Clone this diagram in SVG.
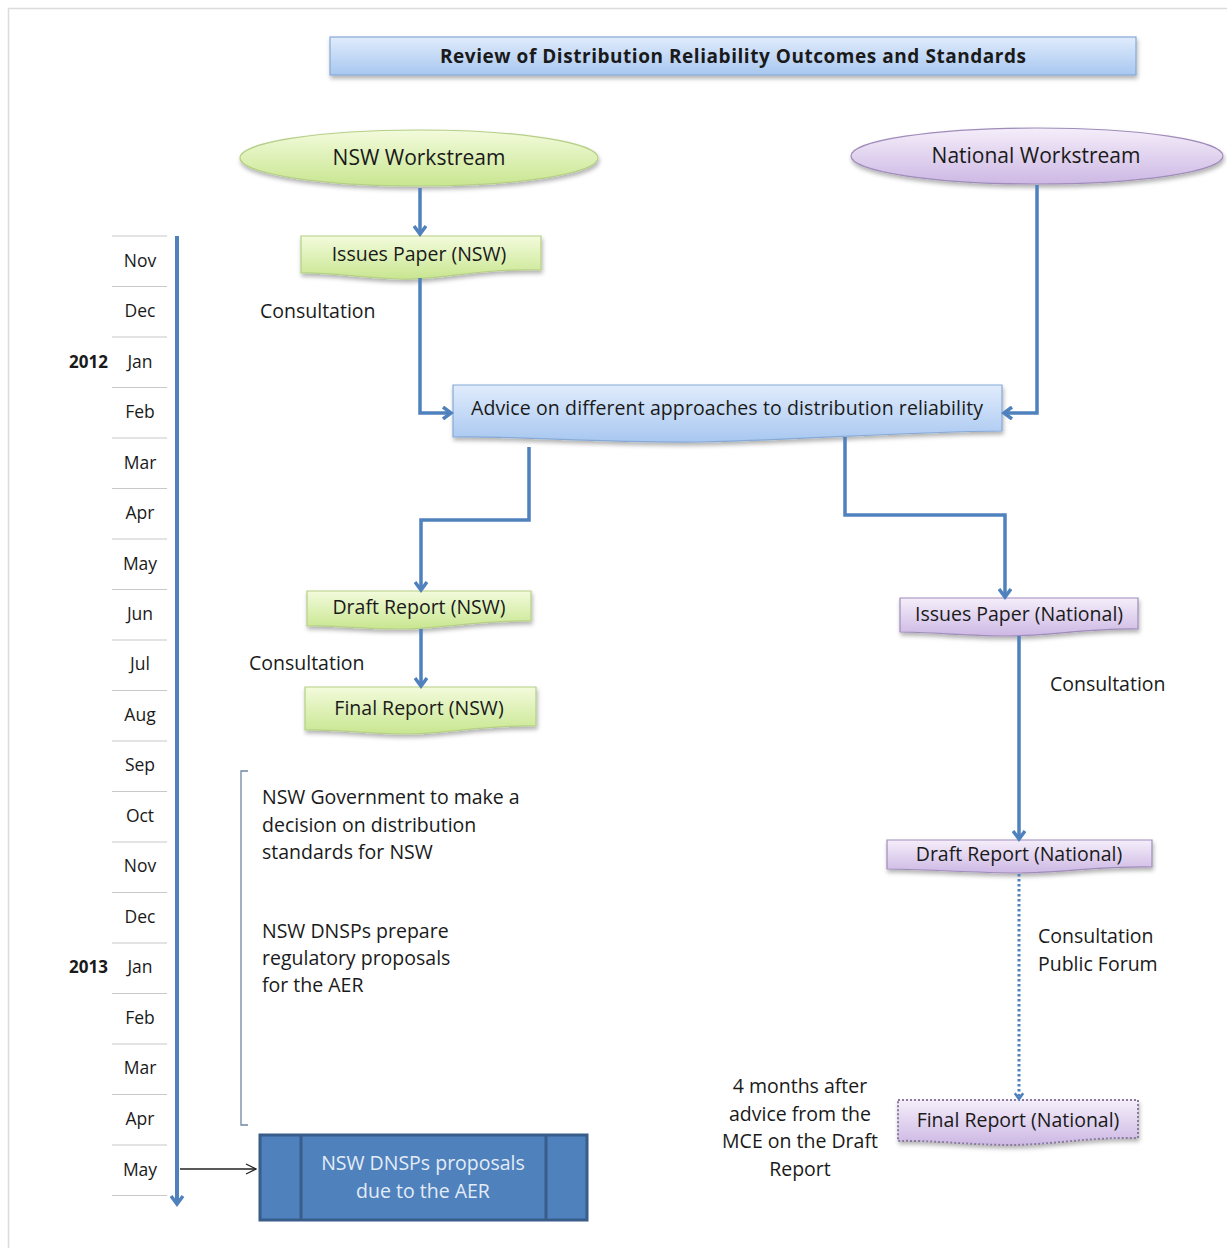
<svg xmlns="http://www.w3.org/2000/svg" width="1227" height="1248" viewBox="0 0 1227 1248">
<style>
text{font-family:"Open Sans","Liberation Sans",sans-serif;fill:#1a1a1a}
.t{font-size:19.5px}
.c{text-anchor:middle}
.m{font-size:17.5px;text-anchor:middle}
.y{font-size:17px;font-weight:bold;text-anchor:end}
.sep{stroke:#c8c8c8;stroke-width:1.2}
.con{fill:none;stroke:#4f81bd;stroke-width:3.5}
.g{fill:url(#gGreen);stroke:#b5cf86;stroke-width:1.2}
.p{fill:url(#gPurple);stroke:#9f8cba;stroke-width:1.2}
.b{fill:url(#gBlue);stroke:#86a9d6;stroke-width:1.2}
</style>
<defs>
<linearGradient id="gGreen" x1="0" y1="0" x2="0" y2="1"><stop offset="0" stop-color="#f3fbdc"/><stop offset="1" stop-color="#c8e690"/></linearGradient>
<linearGradient id="gPurple" x1="0" y1="0" x2="0" y2="1"><stop offset="0" stop-color="#f5eefa"/><stop offset="1" stop-color="#cdb8e4"/></linearGradient>
<linearGradient id="gBlue" x1="0" y1="0" x2="0" y2="1"><stop offset="0" stop-color="#e0ecfc"/><stop offset="1" stop-color="#a8c7f0"/></linearGradient>
<filter id="sh" x="-10%" y="-20%" width="120%" height="150%"><feDropShadow dx="1" dy="3" stdDeviation="2" flood-color="#000" flood-opacity="0.3"/></filter>
<marker id="ah" viewBox="0 0 14 14" markerWidth="14" markerHeight="14" refX="10" refY="7" orient="auto" markerUnits="userSpaceOnUse"><path d="M2,1 L10,7 L2,13" fill="none" stroke="#4f81bd" stroke-width="3.5"/></marker>
<marker id="ahs" viewBox="0 0 12 12" markerWidth="10" markerHeight="10" refX="9" refY="6" orient="auto" markerUnits="userSpaceOnUse"><path d="M2,1 L9,6 L2,11" fill="none" stroke="#4f81bd" stroke-width="3"/></marker>
<marker id="ahk" viewBox="0 0 12 12" markerWidth="12" markerHeight="12" refX="11" refY="6" orient="auto" markerUnits="userSpaceOnUse"><path d="M1,1 L11,6 L1,11" fill="none" stroke="#222" stroke-width="1.3"/></marker>
</defs>
<rect x="0" y="0" width="1227" height="1248" fill="#ffffff"/>
<path d="M8.5,1248 V8.5 H1227" fill="none" stroke="#dcdcdc" stroke-width="1.5"/>

<g id="title">
<rect x="330" y="37" width="806" height="38" class="b" filter="url(#sh)"/>
<text x="733" y="63" class="c" style="font-size:19px;font-weight:bold" textLength="586">Review of Distribution Reliability Outcomes and Standards</text>
</g>

<g id="timeline">
<g class="sep">
<line x1="112" y1="236" x2="167" y2="236"/><line x1="112" y1="286.5" x2="167" y2="286.5"/><line x1="112" y1="337" x2="167" y2="337"/><line x1="112" y1="387.5" x2="167" y2="387.5"/><line x1="112" y1="438" x2="167" y2="438"/><line x1="112" y1="488.5" x2="167" y2="488.5"/><line x1="112" y1="539" x2="167" y2="539"/><line x1="112" y1="589.5" x2="167" y2="589.5"/><line x1="112" y1="640" x2="167" y2="640"/><line x1="112" y1="690.5" x2="167" y2="690.5"/><line x1="112" y1="741" x2="167" y2="741"/><line x1="112" y1="791.5" x2="167" y2="791.5"/><line x1="112" y1="842" x2="167" y2="842"/><line x1="112" y1="892.5" x2="167" y2="892.5"/><line x1="112" y1="943" x2="167" y2="943"/><line x1="112" y1="993.5" x2="167" y2="993.5"/><line x1="112" y1="1044" x2="167" y2="1044"/><line x1="112" y1="1094.5" x2="167" y2="1094.5"/><line x1="112" y1="1145" x2="167" y2="1145"/><line x1="112" y1="1195.5" x2="167" y2="1195.5"/>
</g>
<text x="140" y="267" class="m">Nov</text>
<text x="140" y="317" class="m">Dec</text>
<text x="140" y="368" class="m">Jan</text>
<text x="140" y="418" class="m">Feb</text>
<text x="140" y="469" class="m">Mar</text>
<text x="140" y="519" class="m">Apr</text>
<text x="140" y="570" class="m">May</text>
<text x="140" y="620" class="m">Jun</text>
<text x="140" y="670" class="m">Jul</text>
<text x="140" y="721" class="m">Aug</text>
<text x="140" y="771" class="m">Sep</text>
<text x="140" y="822" class="m">Oct</text>
<text x="140" y="872" class="m">Nov</text>
<text x="140" y="923" class="m">Dec</text>
<text x="140" y="973" class="m">Jan</text>
<text x="140" y="1024" class="m">Feb</text>
<text x="140" y="1074" class="m">Mar</text>
<text x="140" y="1125" class="m">Apr</text>
<text x="140" y="1176" class="m">May</text>
<text x="108" y="368" class="y">2012</text>
<text x="108" y="973" class="y">2013</text>
<line x1="177" y1="236" x2="177" y2="1204" stroke="#4f81bd" stroke-width="4" marker-end="url(#ah)"/>
</g>

<g id="nsw-workstream">
<ellipse cx="419" cy="158" rx="179" ry="28" class="g" filter="url(#sh)"/>
<text x="419" y="165" class="c" style="font-size:21px">NSW Workstream</text>
</g>

<g id="national-workstream">
<ellipse cx="1037" cy="156" rx="186" ry="28" class="p" filter="url(#sh)"/>
<text x="1036" y="163" class="c" style="font-size:21px">National Workstream</text>
</g>

<g id="issues-nsw">
<path d="M301,236 H541 V270 C480,268 440,280 400,279 C360,278 330,272 301,273 Z" class="g" filter="url(#sh)"/>
<text x="419" y="261" class="c t">Issues Paper (NSW)</text>
</g>

<g id="advice">
<path d="M453,385 H1002 V431 C900,432 800,440 700,442 C600,443 520,436 453,437 Z" class="b" filter="url(#sh)"/>
<text x="727" y="415" class="c t" textLength="512">Advice on different approaches to distribution reliability</text>
</g>

<g id="draft-nsw">
<path d="M307,591 H531 V621 C480,620 440,629 400,629 C360,629 330,625 307,626 Z" class="g" filter="url(#sh)"/>
<text x="419" y="614" class="c t">Draft Report (NSW)</text>
</g>

<g id="final-nsw">
<path d="M305,687 H536 V726 C485,725 445,734 405,734 C365,734 335,729 305,730 Z" class="g" filter="url(#sh)"/>
<text x="419" y="715" class="c t">Final Report (NSW)</text>
</g>

<g id="issues-national">
<path d="M900,598 H1138 V629 C1090,628 1050,636 1010,636 C970,636 930,632 900,632 Z" class="p" filter="url(#sh)"/>
<text x="1019" y="621" class="c t">Issues Paper (National)</text>
</g>

<g id="draft-national">
<path d="M887,840 H1152 V867 C1100,866 1060,873 1020,873 C975,873 920,869 887,869 Z" class="p" filter="url(#sh)"/>
<text x="1019" y="861" class="c t">Draft Report (National)</text>
</g>

<g id="final-national">
<path d="M898,1100 H1138 V1138 C1090,1137 1050,1145 1010,1145 C970,1145 930,1140 898,1141 Z" class="p" stroke-dasharray="2 2" style="stroke:#8a7aa0;stroke-width:2" filter="url(#sh)"/>
<text x="1018" y="1127" class="c t">Final Report (National)</text>
</g>

<g id="dnsp-due">
<rect x="260" y="1135" width="327" height="85" fill="#4f81bd" stroke="#385d8a" stroke-width="3"/>
<line x1="301" y1="1135" x2="301" y2="1220" stroke="#385d8a" stroke-width="3"/>
<line x1="546" y1="1135" x2="546" y2="1220" stroke="#385d8a" stroke-width="3"/>
<text x="423" y="1170" class="c t" style="fill:#e3ecf7">NSW DNSPs proposals</text>
<text x="423" y="1198" class="c t" style="fill:#e3ecf7">due to the AER</text>
</g>

<g id="labels">
<text x="260" y="318" class="t">Consultation</text>
<text x="249" y="670" class="t">Consultation</text>
<text x="1050" y="691" class="t">Consultation</text>
<text x="1038" y="943" class="t">Consultation</text>
<text x="1038" y="971" class="t">Public Forum</text>
<text x="262" y="804" class="t">NSW Government to make a</text>
<text x="262" y="832" class="t">decision on distribution</text>
<text x="262" y="859" class="t">standards for NSW</text>
<text x="262" y="938" class="t">NSW DNSPs prepare</text>
<text x="262" y="965" class="t">regulatory proposals</text>
<text x="262" y="992" class="t">for the AER</text>
<text x="800" y="1093" class="c t">4 months after</text>
<text x="800" y="1121" class="c t">advice from the</text>
<text x="800" y="1148" class="c t">MCE on the Draft</text>
<text x="800" y="1176" class="c t">Report</text>
<path d="M248,771 H241 V1125 H248" fill="none" stroke="#6f86a3" stroke-width="1.3"/>
</g>

<g id="connectors">
<path d="M420,188 V234" class="con" marker-end="url(#ah)"/>
<path d="M420,278 V413 H451" class="con" marker-end="url(#ah)"/>
<path d="M1037,185 V413 H1004" class="con" marker-end="url(#ah)"/>
<path d="M529,447 V520 H421 V590" class="con" marker-end="url(#ah)"/>
<path d="M845,437 V515 H1005 V597" class="con" marker-end="url(#ah)"/>
<path d="M421,629 V686" class="con" marker-end="url(#ah)"/>
<path d="M1019,636 V839" class="con" marker-end="url(#ah)"/>
<path d="M1019,874 V1099" fill="none" stroke="#4f81bd" stroke-width="3" stroke-dasharray="2.5 2.5" marker-end="url(#ahs)"/>
<path d="M180,1169 H256" fill="none" stroke="#222" stroke-width="1.3" marker-end="url(#ahk)"/>
</g>
</svg>
